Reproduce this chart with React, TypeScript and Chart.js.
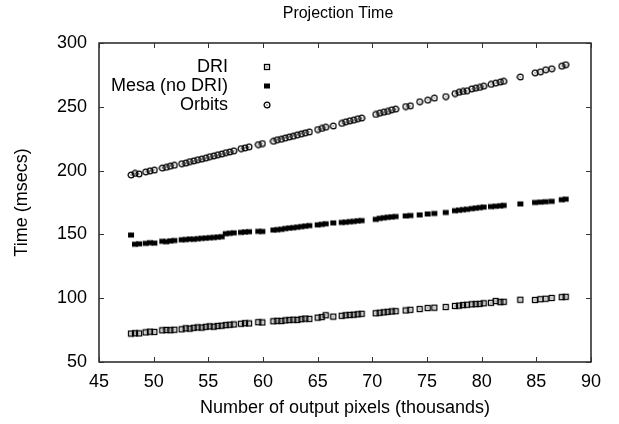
import React, { useEffect, useRef } from "react";
import { Chart, registerables } from "chart.js";

Chart.register(...registerables);

const chartTitle = "Projection Time";
const xAxisTitle = "Number of output pixels (thousands)";
const yAxisTitle = "Time (msecs)";
const seriesNames = ["DRI", "Mesa (no DRI)", "Orbits"];

const xTicks = [45, 50, 55, 60, 65, 70, 75, 80, 85, 90];
const yTicks = [50, 100, 150, 200, 250, 300];

// output pixels (thousands)
const pixelsK = [
  47.93, 48.29, 48.66,
  49.27, 49.66, 50.06,
  50.79, 51.16, 51.52, 51.89,
  52.56, 52.93, 53.29, 53.66, 54.02, 54.39, 54.76, 55.12, 55.49, 55.85, 56.22, 56.59, 56.95, 57.32,
  57.99, 58.35, 58.72,
  59.57, 59.94,
  60.95, 61.31, 61.68, 62.04, 62.41, 62.77, 63.14, 63.51, 63.87, 64.24,
  65.0, 65.37, 65.73, 66.43,
  67.2, 67.56, 67.93, 68.29, 68.66, 69.02,
  70.31, 70.67, 71.04, 71.4, 71.77, 72.13,
  73.05, 73.48,
  74.33,
  75.06, 75.67,
  76.71,
  77.56, 77.93, 78.29, 78.66, 79.09, 79.45, 79.82, 80.18,
  80.85, 81.28, 81.71, 82.01,
  83.54,
  84.88, 85.37, 85.85, 86.4,
  87.32, 87.68,
];

const driMs = [
  72.3, 72.5, 72.4,
  73.2, 73.8, 73.6,
  74.8, 75.1, 74.9, 75.3,
  75.6, 76.4, 76.2, 76.8, 77.1, 77.0, 77.6, 77.9, 77.7, 78.3, 78.5, 78.9, 79.2, 79.4,
  80.0, 80.4, 80.2,
  81.2, 81.0,
  81.9, 82.3, 82.1, 82.6, 82.9, 83.2, 83.0, 83.6, 84.0, 83.8,
  84.8, 85.2, 86.6, 85.6,
  86.2, 86.6, 86.9, 87.1, 87.4, 87.8,
  88.2, 88.6, 88.9, 89.3, 89.6, 89.8,
  90.4, 90.9,
  91.5,
  92.3, 92.6,
  93.1,
  93.9, 94.2, 94.6, 94.9, 95.2, 95.4, 95.6, 96.0,
  96.4, 97.8, 96.9, 97.2,
  98.8,
  98.6, 99.2, 99.6, 100.2,
  100.8, 101.1,
];

const mesaMs = [
  149.5, 142.3, 142.6,
  143.0, 143.5, 143.2,
  144.6, 144.3, 144.9, 145.2,
  145.8, 146.0, 146.3, 146.2, 146.6, 146.9, 147.1, 147.4, 147.6, 147.9, 148.2, 150.6, 150.9, 151.2,
  151.6, 151.9, 152.1,
  152.4, 152.3,
  153.4, 153.7, 154.0, 154.6, 155.0, 155.3, 155.7, 156.1, 156.5, 156.9,
  157.5, 157.9, 158.3, 159.0,
  159.4, 159.6, 160.0, 160.2, 160.6, 160.8,
  161.8, 162.6, 163.0, 163.4, 163.7, 164.0,
  164.5, 164.8,
  165.3,
  166.0, 166.4,
  167.2,
  168.6, 169.0, 169.4, 169.7, 170.2, 170.6, 171.0, 171.4,
  171.8, 172.1, 172.4, 172.7,
  173.9,
  175.0, 175.3, 175.6, 175.9,
  177.2, 177.6,
];

const orbitsMs = [
  196.6, 197.8, 197.4,
  199.0, 199.8, 200.4,
  202.0, 202.6, 203.5, 204.2,
  205.4, 205.9, 207.0, 207.6, 208.5, 209.0, 209.8, 210.9, 211.5, 212.4, 213.0, 214.0, 214.6, 215.5,
  217.2, 217.8, 218.6,
  220.4, 221.2,
  223.0, 224.2, 224.6, 225.5, 226.4, 227.0, 228.0, 228.8, 229.6, 230.3,
  232.2, 233.0, 234.0, 235.0,
  237.0, 238.2, 239.0, 239.6, 240.6, 241.2,
  244.0, 245.0, 245.8, 246.4, 247.6, 248.2,
  250.2, 250.8,
  254.0,
  255.2, 256.8,
  258.0,
  260.4, 261.4, 262.0, 262.6, 264.0, 264.6, 265.2, 266.2,
  267.6, 268.6, 269.4, 270.0,
  273.4,
  276.6, 277.4, 279.0, 279.8,
  281.8, 283.0,
];

const FONT = "'Liberation Sans', Arial, Helvetica, sans-serif";

function makeMarker(kind: "box" | "filled" | "circle"): HTMLCanvasElement {
  const c = document.createElement("canvas");
  c.width = 8;
  c.height = 8;
  const g = c.getContext("2d")!;
  g.strokeStyle = "#000";
  g.fillStyle = "#000";
  g.lineWidth = 1.3;
  if (kind === "box") {
    g.strokeRect(1.5, 1.5, 5, 5);
    g.fillRect(3.5, 3.5, 1, 1);
  } else if (kind === "filled") {
    g.fillRect(1, 1.5, 6, 5);
  } else {
    g.beginPath();
    g.arc(4, 4, 2.9, 0, Math.PI * 2);
    g.stroke();
    g.fillRect(3.5, 3.5, 1, 1);
  }
  return c;
}

export default function App() {
  const ref = useRef<HTMLCanvasElement | null>(null);

  useEffect(() => {
    if (!ref.current) return;
    const markers = [makeMarker("box"), makeMarker("filled"), makeMarker("circle")];
    const seriesValues = [driMs, mesaMs, orbitsMs];

    const frame = {
      id: "gnuplotFrame",
      afterDraw(chart: any) {
        const { ctx, chartArea } = chart;
        const { left, right, top, bottom } = chartArea;
        const xs = chart.scales.x;
        const ys = chart.scales.y;
        ctx.save();
        ctx.strokeStyle = "#000";
        ctx.lineWidth = 1.3;
        ctx.strokeRect(left, top, right - left, bottom - top);
        const tl = 5;
        ctx.lineWidth = 1;
        ctx.strokeStyle = "#333";
        ctx.beginPath();
        xTicks.forEach((v) => {
          const px = Math.round(xs.getPixelForValue(v)) + 0.5;
          ctx.moveTo(px, bottom);
          ctx.lineTo(px, bottom - tl);
          ctx.moveTo(px, top);
          ctx.lineTo(px, top + tl);
        });
        yTicks.forEach((v) => {
          const py = Math.round(ys.getPixelForValue(v)) + 0.5;
          ctx.moveTo(left, py);
          ctx.lineTo(left + tl, py);
          ctx.moveTo(right, py);
          ctx.lineTo(right - tl, py);
        });
        ctx.stroke();

        // title
        ctx.fillStyle = "#000";
        ctx.font = `16px ${FONT}`;
        ctx.textAlign = "center";
        ctx.textBaseline = "middle";
        ctx.fillText(chartTitle, 338, 14);

        // legend
        ctx.font = `18px ${FONT}`;
        ctx.textAlign = "right";
        chart.data.datasets.forEach((ds: any, i: number) => {
          const y = 67 + i * 19;
          ctx.fillText(ds.label, 228, y);
          const m = ds.pointStyle as HTMLCanvasElement;
          ctx.drawImage(m, 267 - m.width / 2, y - m.height / 2);
        });
        ctx.restore();
      },
    };

    const chart = new Chart(ref.current, {
      type: "scatter",
      data: {
        datasets: seriesNames.map((name, i) => ({
          label: name,
          data: pixelsK.map((x, j) => ({ x, y: seriesValues[i][j] })),
          pointStyle: markers[i],
          pointRadius: 3,
          borderColor: "#000",
          backgroundColor: "#000",
        })),
      },
      options: {
        animation: false,
        responsive: false,
        layout: { padding: { top: 43, right: 28, left: 0, bottom: 0 } },
        plugins: {
          legend: { display: false },
          title: { display: false },
          tooltip: { enabled: false },
        },
        scales: {
          x: {
            type: "linear",
            min: 45,
            max: 90,
            afterFit: (s: any) => {
              s.height = 62;
            },
            ticks: {
              stepSize: 5,
              color: "#000",
              padding: 9,
              font: { family: FONT, size: 18 },
            },
            grid: { display: false, drawTicks: false },
            border: { display: false },
            title: {
              display: true,
              text: xAxisTitle,
              color: "#000",
              font: { family: FONT, size: 18 },
              padding: { top: 0, bottom: 5 },
            },
          },
          y: {
            type: "linear",
            min: 50,
            max: 300,
            afterFit: (s: any) => {
              s.width = 99;
            },
            ticks: {
              stepSize: 50,
              color: "#000",
              padding: 12,
              font: { family: FONT, size: 18 },
            },
            grid: { display: false, drawTicks: false },
            border: { display: false },
            title: {
              display: true,
              text: yAxisTitle,
              color: "#000",
              font: { family: FONT, size: 18 },
              padding: { top: 11, bottom: 0 },
            },
          },
        },
      },
      plugins: [frame],
    });
    return () => chart.destroy();
  }, []);

  return (
    <div style={{ position: "absolute", left: 0, top: 0, width: 619, height: 424, background: "#fff" }}>
      <canvas ref={ref} width={619} height={424} />
    </div>
  );
}
